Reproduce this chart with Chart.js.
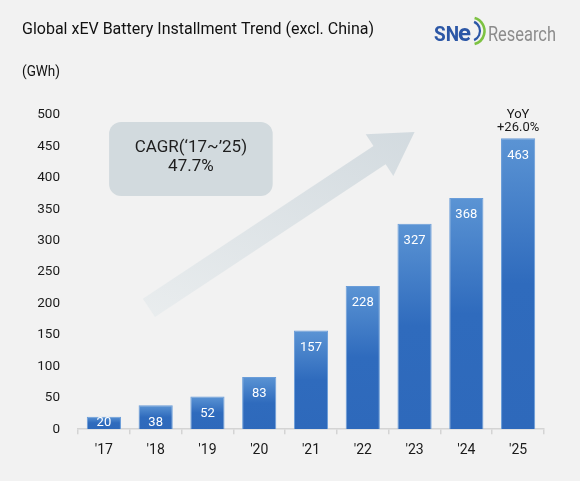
<!DOCTYPE html>
<html>
<head>
<meta charset="utf-8">
<script src="https://cdn.jsdelivr.net/npm/chart.js@4.4.1/dist/chart.umd.min.js"></script>
<style>
  html, body { margin: 0; padding: 0; background: #f2f2f2; }
  #wrap { width: 580px; height: 481px; position: relative; }
</style>
</head>
<body>
<div id="wrap"><canvas id="batteryChart" width="580" height="481"></canvas></div>
<script>
const years = ["'17", "'18", "'19", "'20", "'21", "'22", "'23", "'24", "'25"];
const installGWh = [20, 38, 52, 83, 157, 228, 327, 368, 463];
const yTicks = [0, 50, 100, 150, 200, 250, 300, 350, 400, 450, 500];
const titleText = 'Global xEV Battery Installment Trend (excl. China)';
const unitText = '(GWh)';
const cagrLines = ['CAGR(\u201817~\u201925)', '47.7%'];
const yoyLines = ['YoY', '+26.0%'];

const FONT = 'Roboto, "Liberation Sans", sans-serif';

// arrow and CAGR box sit behind the bars
const backdrop = {
  id: 'backdrop',
  beforeDatasetsDraw(chart) {
    const { ctx, scales: { x, y } } = chart;
    ctx.save();

    // big trend arrow
    const x0 = x.getPixelForValue(0.87), y0 = y.getPixelForValue(193);
    const x1 = x.getPixelForValue(6.0), y1 = y.getPixelForValue(473);
    const ang = Math.atan2(y1 - y0, x1 - x0);
    const len = Math.hypot(x1 - x0, y1 - y0);
    const shaft = 11, head = 25, headLen = 42;
    const grad = ctx.createLinearGradient(x0, y0, x1, y1);
    grad.addColorStop(0, '#eceff0');
    grad.addColorStop(1, '#d2dadf');
    ctx.translate(x0, y0);
    ctx.rotate(ang);
    ctx.beginPath();
    ctx.moveTo(0, -shaft);
    ctx.lineTo(len - headLen, -shaft);
    ctx.lineTo(len - headLen, -head);
    ctx.lineTo(len, 0);
    ctx.lineTo(len - headLen, head);
    ctx.lineTo(len - headLen, shaft);
    ctx.lineTo(0, shaft);
    ctx.closePath();
    ctx.fillStyle = grad;
    ctx.fill();
    ctx.restore();

    // CAGR box
    ctx.save();
    const bx0 = x.getPixelForValue(0.1), bx1 = x.getPixelForValue(3.26);
    const by0 = y.getPixelForValue(489), by1 = y.getPixelForValue(371);
    ctx.beginPath();
    ctx.roundRect(bx0, by0, bx1 - bx0, by1 - by0, 12);
    ctx.fillStyle = '#d2dade';
    ctx.fill();
    ctx.fillStyle = '#1e1e1e';
    ctx.font = '17px ' + FONT;
    ctx.textAlign = 'center';
    ctx.textBaseline = 'middle';
    const cx = (bx0 + bx1) / 2, cy = (by0 + by1) / 2;
    ctx.fillText(cagrLines[0], cx, cy - 11);
    ctx.fillText(cagrLines[1], cx, cy + 8);
    ctx.restore();
  }
};

// value labels, YoY note, title, unit and logo
const overlay = {
  id: 'overlay',
  afterDatasetsDraw(chart) {
    const { ctx, scales: { y } } = chart;
    const meta = chart.getDatasetMeta(0);
    const base = y.getPixelForValue(0);
    ctx.save();
    ctx.font = '13px ' + FONT;
    ctx.textAlign = 'center';
    ctx.textBaseline = 'middle';
    ctx.fillStyle = '#ffffff';
    meta.data.forEach((bar, i) => {
      const ly = Math.min(bar.y + 17, base - 6);
      ctx.fillText(String(installGWh[i]), bar.x, ly);
    });

    const last = meta.data[meta.data.length - 1];
    ctx.fillStyle = '#1a1a1a';
    ctx.font = '13px ' + FONT;
    ctx.fillText(yoyLines[0], last.x, last.y - 24);
    ctx.fillText(yoyLines[1], last.x, last.y - 11);

    ctx.textAlign = 'left';
    ctx.textBaseline = 'alphabetic';
    ctx.fillStyle = '#111111';
    ctx.font = '16px ' + FONT;
    ctx.fillText(titleText, 22, 34, 352);
    ctx.font = '14px ' + FONT;
    ctx.fillText(unitText, 22, 76, 38);

    // logo
    ctx.fillStyle = '#2c57a6';
    ctx.font = 'bold 20px ' + FONT;
    ctx.fillText('SN', 434, 41, 25);
    ctx.font = 'bold 24px ' + FONT;
    ctx.fillText('e', 458, 41, 13);
    ctx.lineWidth = 2.2;
    ctx.strokeStyle = '#2c57a6';
    ctx.beginPath();
    ctx.arc(470, 31, 10, -1.15, 1.15);
    ctx.stroke();
    ctx.strokeStyle = '#7dc242';
    ctx.lineWidth = 2.6;
    ctx.beginPath();
    ctx.arc(471, 31, 13.5, -1.3, 1.3);
    ctx.stroke();
    ctx.font = '20px ' + FONT;
    ctx.fillStyle = '#8c8c8c';
    ctx.fillText('Research', 488, 41, 68);
    ctx.restore();
  }
};

const canvas = document.getElementById('batteryChart');
const ctx = canvas.getContext('2d');

new Chart(ctx, {
  type: 'bar',
  data: {
    labels: years,
    datasets: [{
      data: installGWh,
      backgroundColor(c) {
        const ys = c.chart.scales.y;
        if (!c.chart.chartArea || !ys || c.raw == null) return '#2f6bbd';
        const top = ys.getPixelForValue(c.raw);
        const base = ys.getPixelForValue(0);
        const g = c.chart.ctx.createLinearGradient(0, top, 0, base);
        g.addColorStop(0, '#5b94d4');
        g.addColorStop(0.5, '#2f6bbd');
        g.addColorStop(1, '#2e69bb');
        return g;
      },
      borderColor: '#6a9dd9',
      borderWidth: 1,
      barPercentage: 0.66,
      categoryPercentage: 1
    }]
  },
  options: {
    responsive: false,
    animation: false,
    layout: { padding: { top: 115, right: 36, bottom: 14, left: 0 } },
    plugins: {
      legend: { display: false },
      tooltip: { enabled: false }
    },
    scales: {
      x: {
        offset: true,
        grid: {
          display: true,
          offset: true,
          drawOnChartArea: false,
          drawTicks: true,
          tickLength: 5,
          color: '#d4d4d4',
          lineWidth: 1.5
        },
        border: { display: true, color: '#d4d4d4', width: 1.5 },
        ticks: { color: '#1a1a1a', font: { family: FONT, size: 14 }, padding: 8 }
      },
      y: {
        min: 0,
        max: 500,
        afterBuildTicks(axis) { axis.ticks = yTicks.map(v => ({ value: v })); },
        afterFit(axis) { axis.width = 78; },
        grid: { display: false, drawTicks: false },
        border: { display: false },
        ticks: { color: '#1a1a1a', font: { family: FONT, size: 13.5 }, padding: 18 }
      }
    }
  },
  plugins: [backdrop, overlay]
});
</script>
</body>
</html>
